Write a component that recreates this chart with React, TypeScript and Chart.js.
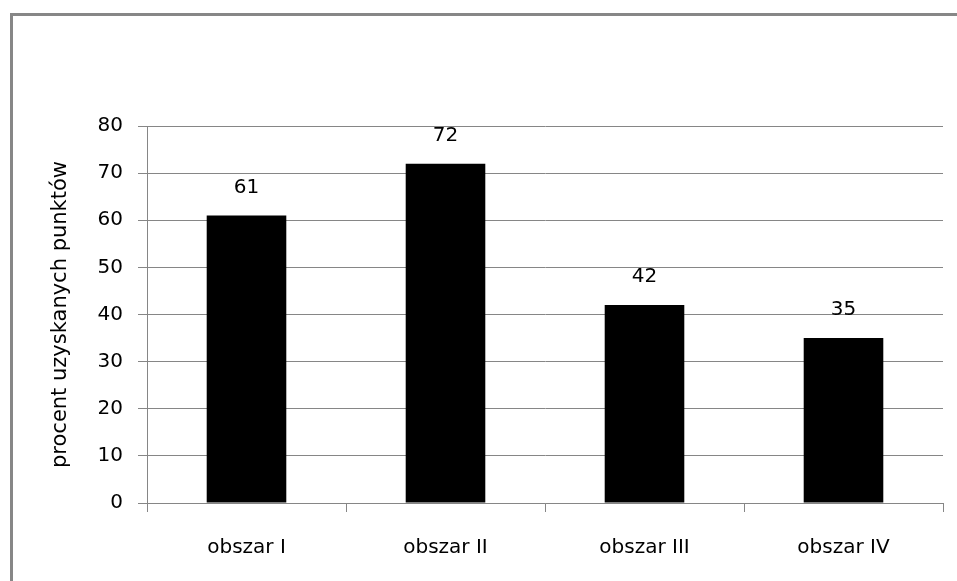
import React, { useEffect, useRef } from "react";
import { Chart, registerables } from "chart.js";

Chart.register(...registerables);

const categories: string[] = ["obszar I", "obszar II", "obszar III", "obszar IV"];
const values: number[] = [61, 72, 42, 35];
const yTitle = "procent uzyskanych punktów";
const yMin = 0;
const yMax = 80;
const yStep = 10;

const FONT = "'DejaVu Sans', 'Liberation Sans', sans-serif";
const GRID = "#868686";

const framePlugin = {
  id: "frame",
  beforeDraw(chart: any) {
    const ctx = chart.ctx;
    ctx.save();
    ctx.fillStyle = "#ffffff";
    ctx.fillRect(0, 0, chart.width, chart.height);
    ctx.fillStyle = "#878787";
    ctx.fillRect(10, 13, chart.width - 10, 3);
    ctx.fillRect(10, 13, 3, chart.height - 13);
    ctx.restore();
  },
};

const labelPlugin = {
  id: "barLabels",
  afterDatasetsDraw(chart: any) {
    const ctx = chart.ctx;
    const meta = chart.getDatasetMeta(0);
    ctx.save();
    ctx.font = `20px ${FONT}`;
    ctx.fillStyle = "#000";
    ctx.textAlign = "center";
    ctx.textBaseline = "middle";
    meta.data.forEach((bar: any, i: number) => {
      ctx.fillText(String(values[i]), bar.x, bar.y - 28);
    });
    ctx.restore();
  },
};

export default function App() {
  const ref = useRef<HTMLCanvasElement | null>(null);
  useEffect(() => {
    if (!ref.current) return;
    const chart = new Chart(ref.current, {
      type: "bar",
      data: {
        labels: categories,
        datasets: [
          {
            data: values,
            backgroundColor: "#000000",
            borderWidth: 0,
            barPercentage: 0.4,
            categoryPercentage: 1,
          },
        ],
      },
      options: {
        responsive: false,
        animation: false,
        devicePixelRatio: 1,
        layout: { padding: { top: 126, right: 14, left: 0, bottom: 0 } },
        plugins: {
          legend: { display: false },
          tooltip: { enabled: false },
        },
        scales: {
          x: {
            offset: true,
            grid: {
              offset: true,
              drawOnChartArea: false,
              drawTicks: true,
              tickLength: 9,
              color: GRID,
              lineWidth: 1,
            },
            border: { display: true, color: GRID, width: 1 },
            ticks: {
              color: "#000",
              font: { family: FONT, size: 20 },
              padding: 24,
              maxRotation: 0,
            },
            afterFit(scale: any) {
              scale.height = 78;
            },
          },
          y: {
            min: yMin,
            max: yMax,
            grid: {
              color: GRID,
              lineWidth: 1,
              tickLength: 9,
              drawTicks: true,
            },
            border: { display: true, color: GRID, width: 1 },
            ticks: {
              stepSize: yStep,
              color: "#000",
              font: { family: FONT, size: 20 },
              padding: 15,
            },
            title: {
              display: true,
              text: yTitle,
              color: "#000",
              font: { family: FONT, size: 21 },
              padding: { top: 48, bottom: 0 },
            },
            afterFit(scale: any) {
              scale.width = 147;
            },
          },
        },
      },
      plugins: [framePlugin, labelPlugin],
    });
    return () => chart.destroy();
  }, []);

  return (
    <div style={{ position: "fixed", left: 0, top: 0, width: 957, height: 581, overflow: "hidden" }}>
      <canvas ref={ref} width={957} height={581} style={{ display: "block", width: 957, height: 581 }} />
    </div>
  );
}
